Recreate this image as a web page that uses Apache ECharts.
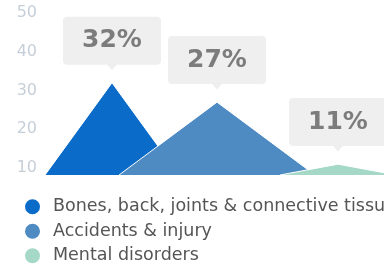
<!DOCTYPE html>
<html>
<head>
<meta charset="utf-8">
<script src="https://cdn.jsdelivr.net/npm/echarts@6/dist/echarts.min.js"></script>
<style>
  html, body { margin: 0; padding: 0; background: #fff; }
  #main { width: 384px; height: 264px; }
</style>
</head>
<body>
<div id="main"></div>
<script>
// categories + values
var names = ['Bones, back, joints & connective tissue', 'Accidents & injury', 'Mental disorders'];
var peaks = [32, 27, 11];
// where each mountain sits along the (hidden) x axis, and its half width
var peakPos = [68, 173, 294];
var halfWidth = [67, 98, 58];
var yTicks = [10, 20, 30, 40, 50];
var colors = ['#0a6bc9', '#4f8bc3', '#a5d8c6'];
var base = 8.2; // bottom of the visible y range

var chart = echarts.init(document.getElementById('main'));

var series = [];
for (let i = 0; i < names.length; i++) {
  series.push({
    name: names[i],
    type: 'line',
    symbol: 'none',
    z: 2 + i,
    lineStyle: { color: '#fff', width: 1 },
    itemStyle: { color: colors[i] },
    areaStyle: { color: colors[i], opacity: 1 },
    data: [[peakPos[i] - halfWidth[i], base], [peakPos[i], peaks[i]], [peakPos[i] + halfWidth[i], base]]
  });
}

// little pointer under each callout box
series.push({
  type: 'scatter',
  silent: true,
  symbol: 'triangle',
  symbolRotate: 180,
  symbolSize: [10, 6],
  symbolOffset: [0, -15.5],
  itemStyle: { color: '#ebebeb' },
  z: 10,
  data: peaks.map(function (p, i) { return [peakPos[i], p]; })
});

// callout boxes
series.push({
  type: 'scatter',
  silent: true,
  symbolSize: 0.1,
  z: 10,
  label: {
    show: true,
    position: 'top',
    distance: 18,
    formatter: function (p) { return peaks[p.dataIndex] + '%'; },
    fontFamily: 'DejaVu Sans',
    fontWeight: 'bold',
    fontSize: 25,
    lineHeight: 28,
    color: '#5f5f5f',
    backgroundColor: '#ebebeb',
    borderRadius: 4,
    padding: [10, 17],
    width: 64,
    align: 'center'
  },
  data: peaks.map(function (p, i) { return [peakPos[i], p]; })
});

chart.setOption({
  backgroundColor: '#fff',
  animation: false,
  grid: { left: 44, right: 0, top: 13, bottom: 89 },
  legend: {
    data: names,
    orient: 'vertical',
    left: 20,
    top: 192,
    height: 80,
    icon: 'circle',
    itemWidth: 15,
    itemHeight: 15,
    itemGap: 5,
    textStyle: {
      fontFamily: 'DejaVu Sans',
      fontSize: 17.5,
      lineHeight: 19.5,
      color: '#555',
      padding: [0, 0, 0, 8]
    }
  },
  xAxis: {
    type: 'value',
    min: 0,
    max: 340,
    show: false
  },
  yAxis: {
    type: 'value',
    min: base,
    max: 50,
    axisLine: { show: false },
    axisTick: { show: false },
    splitLine: { show: false },
    axisLabel: {
      customValues: yTicks,
      margin: 7,
      fontFamily: 'DejaVu Sans',
      fontSize: 16,
      color: '#c6cfd8'
    }
  },
  series: series
});
</script>
</body>
</html>
